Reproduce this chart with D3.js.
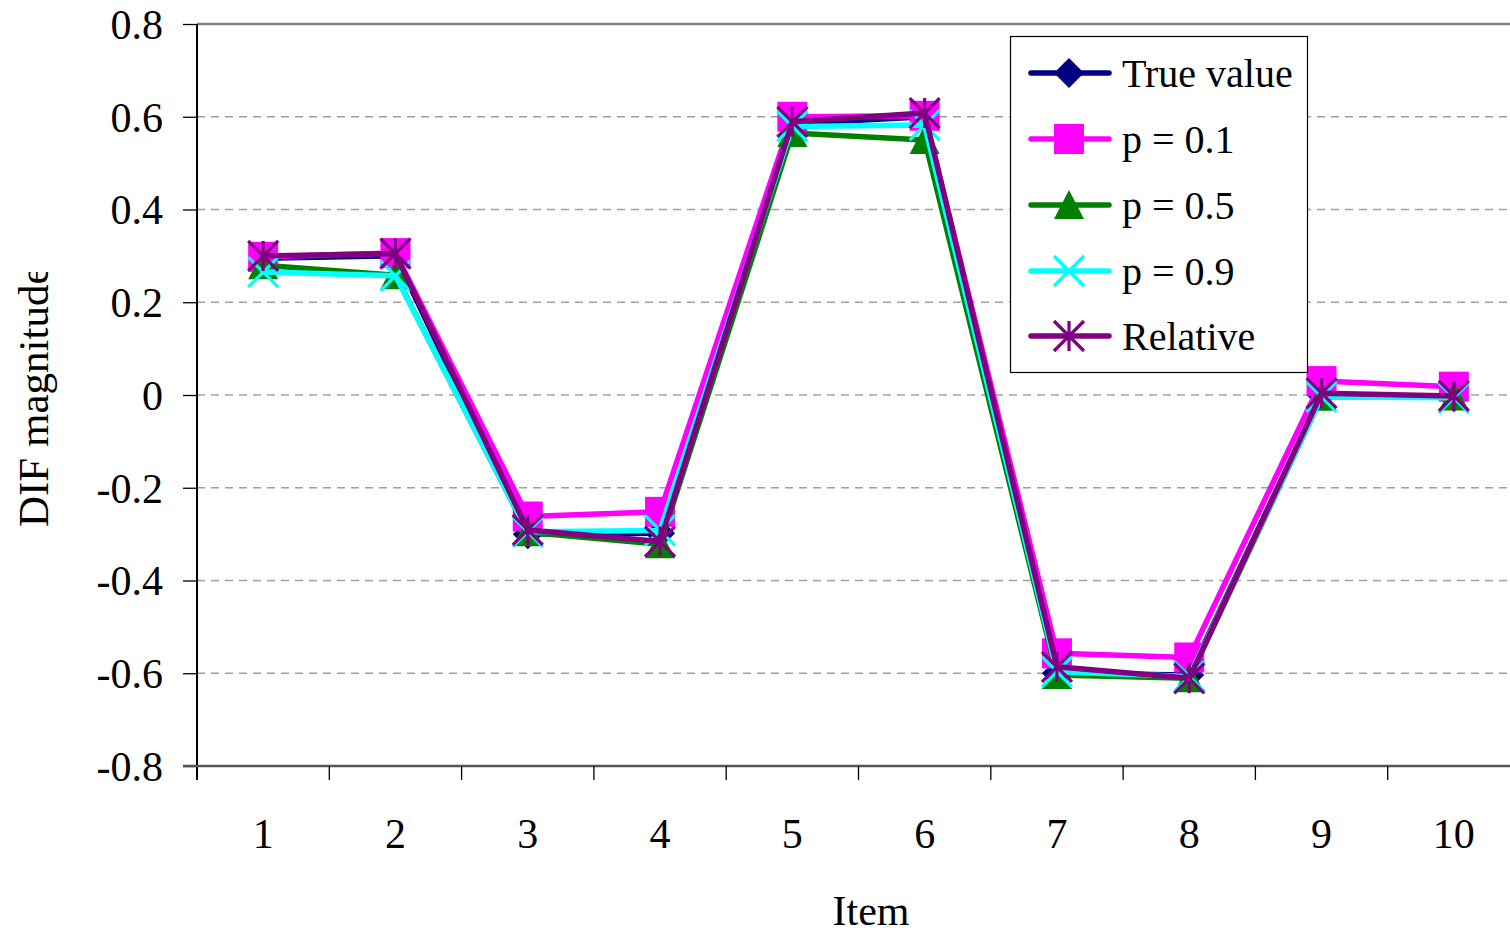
<!DOCTYPE html>
<html>
<head>
<meta charset="utf-8">
<script src="https://cdn.jsdelivr.net/npm/d3@7"></script>
<style>
  html, body { margin: 0; padding: 0; background: #fff; }
  svg { display: block; }
  text { font-family: "Liberation Serif", "Times New Roman", serif; fill: #000; }
</style>
</head>
<body>
<svg id="chart" width="1510" height="933"></svg>
<script>
// Items on the x axis
const items = ["1", "2", "3", "4", "5", "6", "7", "8", "9", "10"];
// Y axis tick values
const yTicks = [-0.8, -0.6, -0.4, -0.2, 0, 0.2, 0.4, 0.6, 0.8];

// DIF magnitude per item for each estimation condition
const trueValue = [0.295, 0.300, -0.300, -0.298, 0.585, 0.600, -0.600, -0.604, 0.000, -0.005];
const p01       = [0.298, 0.306, -0.262, -0.252, 0.600, 0.602, -0.557, -0.566, 0.030, 0.018];
const p05       = [0.280, 0.258, -0.296, -0.322, 0.565, 0.550, -0.604, -0.611, -0.004, -0.003];
const p09       = [0.265, 0.257, -0.295, -0.292, 0.579, 0.582, -0.597, -0.607, -0.004, -0.006];
const relative  = [0.300, 0.305, -0.291, -0.316, 0.589, 0.608, -0.586, -0.611, 0.004, -0.002];

const seriesNames = ["True value", "p = 0.1", "p = 0.5", "p = 0.9", "Relative"];
const seriesValues = [trueValue, p01, p05, p09, relative];
const seriesColors = ["#000080", "#FF00FF", "#008000", "#00FFFF", "#800080"];
const seriesMarkers = ["diamond", "square", "triangle", "cross", "star"];

const svg = d3.select("#chart");

const plot = { left: 197, right: 1520, top: 24, bottom: 766 };

const x = d3.scaleBand().domain(items).range([plot.left, plot.right]).padding(0);
const y = d3.scaleLinear().domain([-0.8, 0.8]).range([plot.bottom, plot.top]);

// Dashed horizontal gridlines (interior ticks)
svg.append("g")
  .selectAll("line")
  .data(yTicks.filter(t => t > -0.8 && t < 0.8))
  .join("line")
  .attr("x1", plot.left).attr("x2", 1510)
  .attr("y1", d => y(d)).attr("y2", d => y(d))
  .attr("stroke", "#a0a0a0")
  .attr("stroke-width", 1.3)
  .attr("stroke-dasharray", "8,6");

// Top border of plot area
svg.append("line")
  .attr("x1", plot.left).attr("x2", 1510)
  .attr("y1", y(0.8)).attr("y2", y(0.8))
  .attr("stroke", "#808080").attr("stroke-width", 2.5);

// Y axis
const yAxis = d3.axisLeft(y)
  .tickValues(yTicks)
  .tickSize(14)
  .tickPadding(20)
  .tickFormat(d => d === 0 ? "0" : d3.format(".1f")(d).replace("−", "-"));

const yg = svg.append("g").attr("transform", `translate(${plot.left},0)`).call(yAxis);
yg.select(".domain").attr("stroke", "#000").attr("stroke-width", 2)
  .attr("d", `M0,${plot.top}V${plot.bottom + 14}`);
yg.selectAll(".tick line").attr("stroke", "#000").attr("stroke-width", 1.3);
yg.selectAll(".tick text")
  .attr("font-family", "Liberation Serif, serif")
  .attr("font-size", 42)
  .attr("fill", "#000")
  .attr("dy", "0.34em");

// X axis
const xAxis = d3.axisBottom(x).tickSize(0).tickPadding(0);
const xg = svg.append("g").attr("transform", `translate(0,${plot.bottom})`).call(xAxis);
xg.select(".domain").attr("stroke", "#555").attr("stroke-width", 2.5)
  .attr("d", `M${plot.left - 14},0H1510`);
xg.selectAll(".tick text")
  .attr("font-family", "Liberation Serif, serif")
  .attr("font-size", 42)
  .attr("fill", "#000")
  .attr("y", 82)
  .attr("dy", 0);

// Category boundary ticks on the x axis
const boundaries = items.map(d => x(d)).filter(v => v > plot.left);
svg.append("g")
  .selectAll("line")
  .data(boundaries)
  .join("line")
  .attr("x1", d => d).attr("x2", d => d)
  .attr("y1", plot.bottom).attr("y2", plot.bottom + 14)
  .attr("stroke", "#000").attr("stroke-width", 1.3);

// Axis titles
svg.append("text")
  .attr("x", 871).attr("y", 925)
  .attr("text-anchor", "middle")
  .attr("font-size", 42)
  .text("Item");

svg.append("clipPath").attr("id", "ytitle-clip")
  .append("rect").attr("x", 0).attr("y", 272).attr("width", 80).attr("height", 300);

svg.append("g").attr("clip-path", "url(#ytitle-clip)")
  .append("text")
  .attr("transform", "translate(48,527) rotate(-90)")
  .attr("text-anchor", "start")
  .attr("font-size", 43)
  .text("DIF magnitude");

// Marker drawing
function drawMarker(g, type, color, cx, cy) {
  const s = 15;
  if (type === "diamond") {
    g.append("path").attr("d", `M${cx},${cy - s}L${cx + s},${cy}L${cx},${cy + s}L${cx - s},${cy}Z`)
      .attr("fill", color);
  } else if (type === "square") {
    g.append("rect").attr("x", cx - s).attr("y", cy - s).attr("width", 2 * s).attr("height", 2 * s)
      .attr("fill", color);
  } else if (type === "triangle") {
    g.append("path").attr("d", `M${cx},${cy - s}L${cx + s},${cy + s - 1}L${cx - s},${cy + s - 1}Z`)
      .attr("fill", color);
  } else if (type === "cross") {
    g.append("path").attr("d", `M${cx - s},${cy - s}L${cx + s},${cy + s}M${cx + s},${cy - s}L${cx - s},${cy + s}`)
      .attr("stroke", color).attr("stroke-width", 3.2).attr("fill", "none");
  } else if (type === "star") {
    g.append("path").attr("d", `M${cx - s},${cy - s}L${cx + s},${cy + s}M${cx + s},${cy - s}L${cx - s},${cy + s}M${cx},${cy - s}L${cx},${cy + s}`)
      .attr("stroke", color).attr("stroke-width", 3.2).attr("fill", "none");
  }
}

const line = d3.line()
  .x((d, i) => x(items[i]) + x.bandwidth() / 2)
  .y(d => y(d));

// Series lines and markers
seriesValues.forEach((vals, k) => {
  const g = svg.append("g");
  g.append("path")
    .datum(vals)
    .attr("d", line)
    .attr("fill", "none")
    .attr("stroke", seriesColors[k])
    .attr("stroke-width", 5.5)
    .attr("stroke-linejoin", "round")
    .attr("stroke-linecap", "round");
  vals.forEach((v, i) => {
    drawMarker(g, seriesMarkers[k], seriesColors[k], x(items[i]) + x.bandwidth() / 2, y(v));
  });
});

// Legend
const legend = svg.append("g");
legend.append("rect")
  .attr("x", 1010.5).attr("y", 36.5).attr("width", 297).attr("height", 336)
  .attr("fill", "#fff").attr("stroke", "#000").attr("stroke-width", 1.2);

const rowY = [73, 139, 205, 271, 336];
seriesNames.forEach((name, k) => {
  const ly = rowY[k];
  legend.append("line")
    .attr("x1", 1031).attr("x2", 1109).attr("y1", ly).attr("y2", ly)
    .attr("stroke", seriesColors[k]).attr("stroke-width", 5.5).attr("stroke-linecap", "round");
  drawMarker(legend, seriesMarkers[k], seriesColors[k], 1069, ly);
  legend.append("text")
    .attr("x", 1122).attr("y", ly + 14)
    .attr("font-size", 40)
    .attr("xml:space", "preserve")
    .text(name);
});
</script>
</body>
</html>
